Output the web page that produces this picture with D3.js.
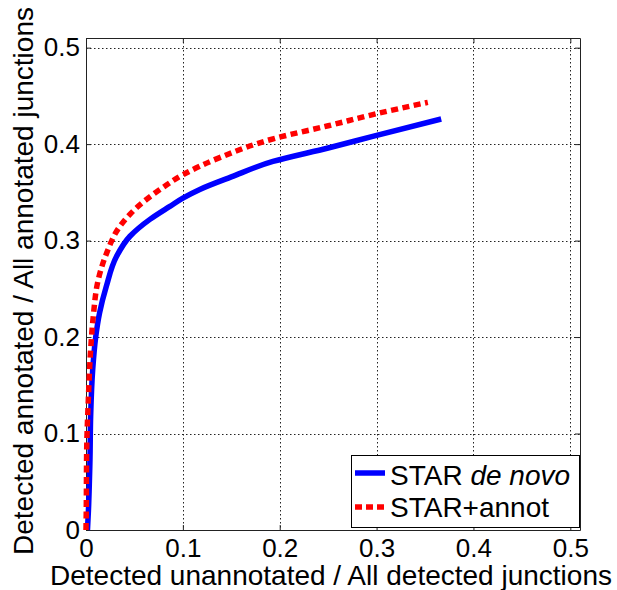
<!DOCTYPE html>
<html>
<head>
<meta charset="utf-8">
<script src="https://cdn.jsdelivr.net/npm/d3@7"></script>
<style>
  body { margin: 0; background: #fff; }
  svg text { font-family: Arial, "Liberation Sans", sans-serif; fill: #000; }
</style>
</head>
<body>
<div id="chart"></div>
<script>
(function() {
  // curve values: [unannotated fraction, annotated fraction]
  var deNovoX = [0.0015, 0.0025, 0.0035, 0.0041, 0.0048, 0.0069, 0.0100, 0.0140, 0.0210, 0.0316, 0.0454, 0.0660, 0.0866, 0.1000, 0.1175, 0.1500, 0.1930, 0.2500, 0.2960, 0.3667]
  var deNovoY = [0.000, 0.020, 0.050, 0.073, 0.118, 0.166, 0.200, 0.225, 0.2526, 0.2837, 0.3045, 0.322, 0.3355, 0.3440, 0.353, 0.366, 0.382, 0.396, 0.408, 0.426]

  var annotX = [0.0000, 0.0002, 0.0007, 0.0024, 0.0048, 0.0075, 0.0127, 0.0213, 0.0350, 0.0522, 0.0763, 0.1003, 0.1380, 0.1965, 0.2500, 0.2960, 0.3529]
  var annotY = [0.000, 0.014, 0.083, 0.135, 0.187, 0.2215, 0.2596, 0.287, 0.3148, 0.334, 0.3529, 0.3684, 0.386, 0.4064, 0.419, 0.4306, 0.4433]

  var seriesNames = ['STAR', 'STAR+annot']
  var tickValues = [0, 0.1, 0.2, 0.3, 0.4, 0.5]
  var xTitle = 'Detected unannotated / All detected junctions'
  var yTitle = 'Detected annotated / All annotated junctions'

  var margin = {top: 38, right: 37, bottom: 60, left: 86}
  var width = 617 - margin.left - margin.right
  var height = 590 - margin.top - margin.bottom

  var xPositionScale = d3.scaleLinear().domain([0, 0.51]).range([0, width])
  var yPositionScale = d3.scaleLinear().domain([0, 0.51]).range([height, 0])

  var svg = d3.select('#chart')
    .append('svg')
    .attr('width', 617)
    .attr('height', 590)
    .append('g')
    .attr('transform', 'translate(' + margin.left + ',' + margin.top + ')')

  var fmt = function(d) { return d === 0 ? '0' : d3.format('.1f')(d) }

  // dotted grid
  var grid = svg.append('g').attr('class', 'grid')
  grid.selectAll('.gx')
    .data(tickValues.filter(d => d > 0))
    .enter().append('line')
    .attr('x1', d => Math.round(xPositionScale(d)) + 0.5)
    .attr('x2', d => Math.round(xPositionScale(d)) + 0.5)
    .attr('y1', 0)
    .attr('y2', height)
  grid.selectAll('.gy')
    .data(tickValues.filter(d => d > 0))
    .enter().append('line')
    .attr('y1', d => Math.round(yPositionScale(d)) + 0.5)
    .attr('y2', d => Math.round(yPositionScale(d)) + 0.5)
    .attr('x1', 0)
    .attr('x2', width)
  grid.selectAll('line')
    .attr('stroke', '#222')
    .attr('stroke-width', 1)
    .attr('stroke-dasharray', '1.5,2.5')

  // axes, ticks pointing inward like matlab
  var xAxis = d3.axisBottom(xPositionScale).tickValues(tickValues).tickFormat(fmt).tickSizeInner(-5).tickSizeOuter(0).tickPadding(9)
  svg.append('g')
    .attr('class', 'axis axis-x')
    .attr('transform', 'translate(0,' + height + ')')
    .call(xAxis)

  var yAxis = d3.axisLeft(yPositionScale).tickValues(tickValues).tickFormat(fmt).tickSizeInner(-5).tickSizeOuter(0).tickPadding(6)
  svg.append('g')
    .attr('class', 'axis axis-y')
    .call(yAxis)

  svg.append('g')
    .attr('class', 'axis axis-top')
    .call(d3.axisTop(xPositionScale).tickValues(tickValues).tickFormat('').tickSizeInner(-5).tickSizeOuter(0))
  svg.append('g')
    .attr('class', 'axis axis-right')
    .attr('transform', 'translate(' + width + ',0)')
    .call(d3.axisRight(yPositionScale).tickValues(tickValues).tickFormat('').tickSizeInner(-5).tickSizeOuter(0))

  svg.selectAll('.axis path').attr('stroke', '#222')
  svg.selectAll('.axis line').attr('stroke', '#222')
  svg.selectAll('.axis text').attr('font-size', 26).attr('font-family', 'Arial, "Liberation Sans", sans-serif').attr('fill', '#000')

  // curves
  var line = d3.line()
    .x(d => xPositionScale(d[0]))
    .y(d => yPositionScale(d[1]))
    .curve(d3.curveMonotoneY)

  var deNovo = d3.zip(deNovoX, deNovoY)
  var annot = d3.zip(annotX, annotY)

  svg.append('path')
    .datum(deNovo)
    .attr('d', line)
    .attr('fill', 'none')
    .attr('stroke', '#0000ff')
    .attr('stroke-width', 5.5)

  svg.append('path')
    .datum(annot)
    .attr('d', line)
    .attr('fill', 'none')
    .attr('stroke', '#ff0000')
    .attr('stroke-width', 5.5)
    .attr('stroke-dasharray', '7,4.5')

  // legend
  var legend = svg.append('g')
    .attr('transform', 'translate(' + (351 - margin.left) + ',' + (455 - margin.top) + ')')
  legend.append('rect')
    .attr('x', 0.5).attr('y', 0.5)
    .attr('width', 228).attr('height', 72)
    .attr('fill', '#fff')
    .attr('stroke', '#000')

  legend.append('line')
    .attr('x1', 4).attr('x2', 34).attr('y1', 18).attr('y2', 18)
    .attr('stroke', '#0000ff').attr('stroke-width', 5.5)
  legend.append('line')
    .attr('x1', 4).attr('x2', 35).attr('y1', 52).attr('y2', 52)
    .attr('stroke', '#ff0000').attr('stroke-width', 5.5)
    .attr('stroke-dasharray', '7,4')

  var t1 = legend.append('text')
    .attr('x', 39).attr('y', 30)
    .attr('font-size', 28)
  t1.append('tspan').text(seriesNames[0] + ' ')
  t1.append('tspan').attr('font-style', 'italic').text('de novo')

  legend.append('text')
    .attr('x', 39).attr('y', 62)
    .attr('font-size', 28)
    .text(seriesNames[1])

  // axis titles
  svg.append('text')
    .attr('x', 331 - margin.left)
    .attr('y', 585 - margin.top)
    .attr('text-anchor', 'middle')
    .attr('font-size', 28)
    .text(xTitle)

  svg.append('text')
    .attr('transform', 'translate(' + (33 - margin.left) + ',' + (281 - margin.top) + ') rotate(-90)')
    .attr('text-anchor', 'middle')
    .attr('font-size', 28)
    .text(yTitle)
})()
</script>
</body>
</html>
